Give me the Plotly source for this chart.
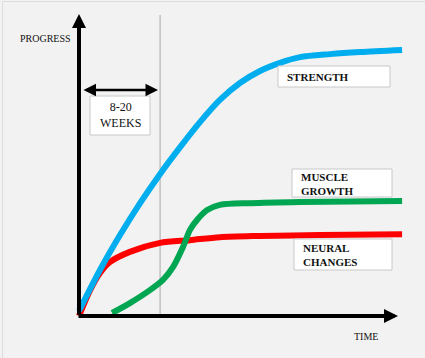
import plotly.graph_objects as go

# ---- data (time in arbitrary units, progress 0-100) ----
strength_t = [0, 6.6, 12.9, 19.2, 25.5, 31.8, 38.1, 44.3, 50.6, 56.9, 63.2, 69.5, 78.9, 88.4, 101.6]
strength_p = [1.7, 15.3, 26.9, 37.5, 47.2, 56.1, 64.5, 71.8, 77.4, 81.4, 84.1, 86.0, 87.0, 87.7, 88.4]

neural_t = [0, 3.5, 6.6, 9.7, 16.0, 25.5, 34.9, 44.3, 56.9, 75.8, 101.6]
neural_p = [0, 8.6, 14.3, 17.9, 21.3, 24.3, 25.2, 26.2, 26.6, 26.9, 27.2]

muscle_t = [10.4, 16.0, 22.3, 26.4, 29.6, 32.7, 34.9, 37.1, 40.3, 44.3, 53.8, 69.5, 101.6]
muscle_p = [1.0, 4.3, 8.6, 12.0, 16.3, 22.9, 28.6, 31.9, 35.2, 36.9, 37.5, 37.9, 38.2]

series_names = ["STRENGTH", "MUSCLE<br>GROWTH", "NEURAL<br>CHANGES"]
weeks_label = "8-20<br>WEEKS"
weeks_mark = 25.5

# ---- layout helpers (pixel -> data) ----
W, H = 425, 358
X0PX, Y0PX = 79, 316
SX, SY = 3.18, 3.01
def px2x(p):
    return (p - X0PX) / SX
def px2y(p):
    return (Y0PX - p) / SY

fig = go.Figure()
fig.add_trace(go.Scatter(x=neural_t, y=neural_p, mode="lines", line=dict(color="#ff0000", width=6, shape="spline", smoothing=0.8), hoverinfo="skip"))
fig.add_trace(go.Scatter(x=muscle_t, y=muscle_p, mode="lines", line=dict(color="#00a651", width=6, shape="spline", smoothing=0.8), hoverinfo="skip"))
fig.add_trace(go.Scatter(x=strength_t, y=strength_p, mode="lines", line=dict(color="#00aeef", width=6, shape="spline", smoothing=0.8), hoverinfo="skip"))

shapes = []
# thin gray vertical marker
shapes.append(dict(type="line", x0=weeks_mark, x1=weeks_mark, y0=0, y1=px2y(15), xref="x", yref="y",
                   line=dict(color="#a8a8a8", width=1), layer="below"))
# boxes
def box(x0, y0, x1, y1):
    shapes.append(dict(type="rect", xref="x", yref="y", x0=px2x(x0), x1=px2x(x1), y0=px2y(y1), y1=px2y(y0),
                       fillcolor="white", line=dict(color="#c8c8c8", width=1), layer="above"))
box(90, 96, 150, 135)
box(278, 66, 390, 87)
box(292, 169, 392, 197)
box(294, 239, 392, 270)
# frame
shapes.append(dict(type="rect", xref="paper", yref="paper", x0=0.006, x1=1.2, y0=-0.2, y1=0.996,
                   line=dict(color="#dcdcdc", width=1), fillcolor="rgba(0,0,0,0)", layer="below"))

serif = "Liberation Serif, Times New Roman, serif"
ann = []
# axes arrows
ann.append(dict(x=0, y=px2y(14), ax=0, ay=0, xref="x", yref="y", axref="x", ayref="y", text="",
                showarrow=True, arrowhead=2, arrowsize=0.7, arrowwidth=4, arrowcolor="black", standoff=0))
ann.append(dict(x=px2x(398), y=0, ax=px2x(77), ay=0, xref="x", yref="y", axref="x", ayref="y", text="",
                showarrow=True, arrowhead=2, arrowsize=0.7, arrowwidth=4, arrowcolor="black", standoff=0))
# double arrow
ann.append(dict(x=px2x(158), y=px2y(90), ax=px2x(82), ay=px2y(90), xref="x", yref="y", axref="x", ayref="y", text="",
                showarrow=True, arrowhead=2, startarrowhead=2, arrowside="end+start", arrowsize=1, startarrowsize=1,
                arrowwidth=2.5, arrowcolor="black", standoff=0, startstandoff=0))

def txt(x, y, s, size=11, bold=False, xanchor="left", align="left"):
    ann.append(dict(x=px2x(x), y=px2y(y), xref="x", yref="y", text=("<b>%s</b>" % s) if bold else s,
                    showarrow=False, xanchor=xanchor, yanchor="middle", align=align,
                    font=dict(family=serif, size=size, color="#111111")))
txt(120, 115, weeks_label, size=12, xanchor="center", align="center")
txt(285, 77, series_names[0], size=11, bold=True)
txt(299, 184, series_names[1], size=11, bold=True)
txt(301, 255, series_names[2], size=11, bold=True)
txt(18, 38, "PROGRESS", size=10)
txt(352, 336, "TIME", size=10)

fig.update_layout(
    width=W, height=H, margin=dict(l=0, r=0, t=0, b=0),
    paper_bgcolor="#f2f2f2", plot_bgcolor="#f2f2f2", showlegend=False,
    xaxis=dict(range=[-X0PX / SX, (W - X0PX) / SX], visible=False, fixedrange=True),
    yaxis=dict(range=[-(H - Y0PX) / SY, Y0PX / SY], visible=False, fixedrange=True),
    shapes=shapes, annotations=ann,
)
fig.write_html("out.html", config={"displayModeBar": False},
               post_script="document.body.style.margin='0';document.body.style.overflow='hidden';document.body.style.background='#f2f2f2';")
